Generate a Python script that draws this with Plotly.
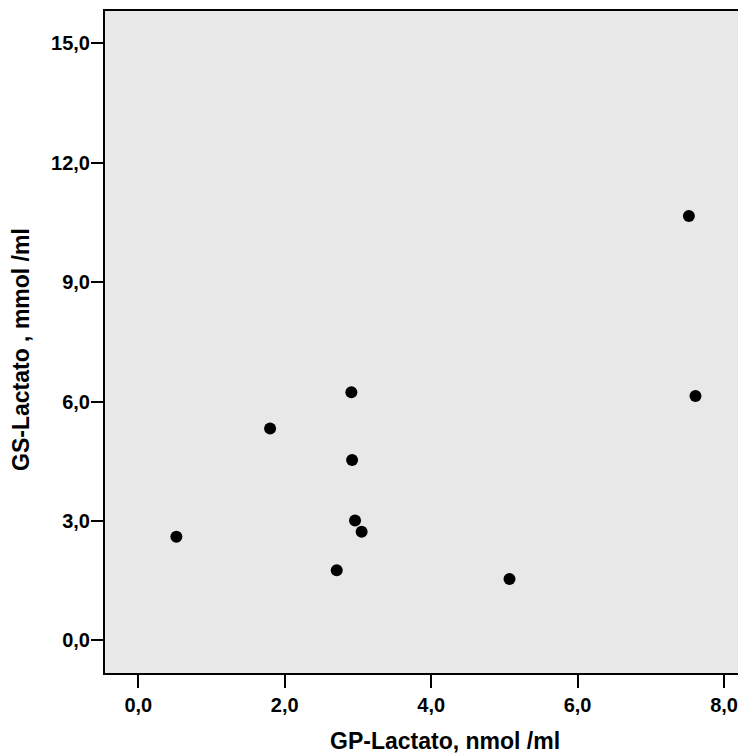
import plotly.graph_objects as go

gp_lactato = [0.52, 1.80, 2.71, 2.91, 2.92, 2.96, 3.05, 5.07, 7.52, 7.61]
gs_lactato = [2.60, 5.32, 1.76, 6.23, 4.53, 3.01, 2.73, 1.54, 10.66, 6.14]

x_ticks = [0, 2, 4, 6, 8]
y_ticks = [0, 3, 6, 9, 12, 15]

x_title = "GP-Lactato, nmol /ml"
y_title = "GS-Lactato , mmol /ml"

FONT = "Liberation Sans, Arial, sans-serif"

fig = go.Figure(
    go.Scatter(
        x=gp_lactato,
        y=gs_lactato,
        mode="markers",
        marker=dict(size=12, color="black", line=dict(width=0)),
        showlegend=False,
    )
)

axis_common = dict(
    showgrid=False,
    zeroline=False,
    showline=True,
    linecolor="black",
    linewidth=2,
    ticks="outside",
    tickcolor="black",
    tickwidth=2,
    tickformat=".1f",
    tickfont=dict(family=FONT, size=20, color="black", weight="bold"),
)

fig.update_xaxes(
    **axis_common,
    range=[-0.455, 8.30],
    tickvals=x_ticks,
    ticklen=13,
    mirror=True,
)
fig.update_yaxes(
    **axis_common,
    range=[-0.82, 15.81],
    tickvals=y_ticks,
    ticklen=12,
    ticklabelstandoff=-3,
)

fig.add_annotation(
    text=x_title, xref="paper", yref="paper", x=0.531, y=-0.1027,
    xanchor="center", yanchor="middle", showarrow=False,
    font=dict(family=FONT, size=23, color="black", weight="bold"),
)
fig.add_annotation(
    text=y_title, xref="paper", yref="paper", x=-0.131, y=0.488,
    xanchor="center", yanchor="middle", showarrow=False, textangle=-90,
    font=dict(family=FONT, size=23, color="black", weight="bold"),
)

# The page body adds an 8px margin, so the figure is sized to fill the rest.
fig.update_layout(
    width=738,
    height=747,
    margin=dict(l=97, r=0, t=3, b=82),
    plot_bgcolor="#E8E8E8",
    paper_bgcolor="white",
    separators=",.",
)

fig.write_html("out.html")
